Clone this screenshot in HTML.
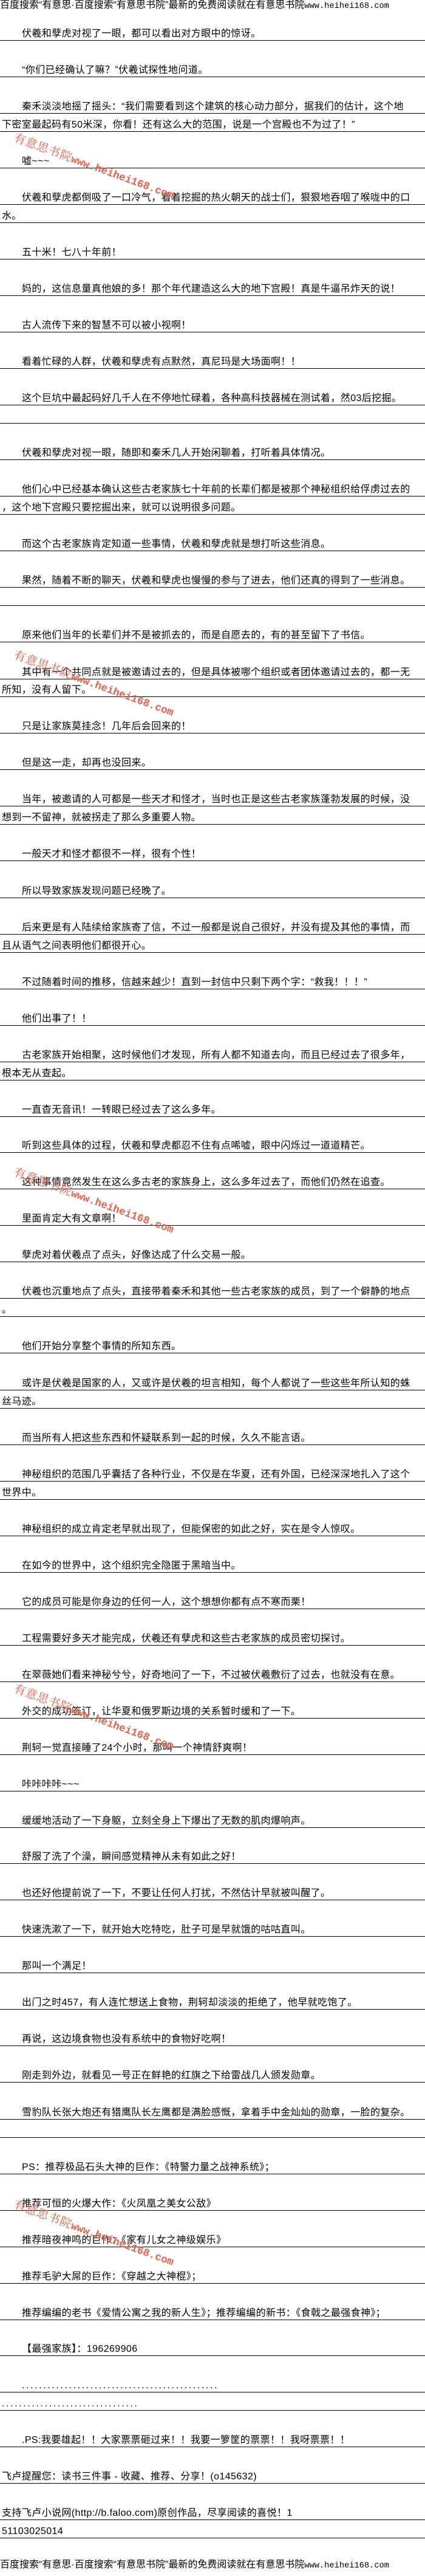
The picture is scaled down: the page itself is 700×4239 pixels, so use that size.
<!DOCTYPE html>
<html><head><meta charset="utf-8">
<style>
html,body{margin:0;padding:0;background:#fff;}
body{width:700px;height:4239px;position:relative;overflow:hidden;font-family:"Liberation Sans","Noto Sans CJK SC","WenQuanYi Zen Hei",sans-serif;color:#000;}
.t{position:absolute;left:0;width:700px;height:20px;line-height:20px;border-bottom:1px solid #000;font-size:16px;letter-spacing:0.4px;white-space:nowrap;padding-left:3px;box-sizing:content-box;}
.i{padding-left:36px;width:667px;}
.n{width:697px;}
.hd{position:absolute;left:0;font-size:16px;white-space:nowrap;line-height:18px;}
.hd span{font-family:"Liberation Mono",monospace;font-size:13.7px;}
.wm{position:absolute;left:29px;transform:rotate(20deg);transform-origin:0 0;white-space:nowrap;color:#d4533f;opacity:0.85;text-shadow:0 0 2px #f3c0b8;}
.wm b{font-weight:normal;font-family:"Liberation Serif","Noto Serif CJK SC",serif;font-size:19px;letter-spacing:1px;}
.wm span{font-family:"Liberation Mono",monospace;font-size:17.5px;font-weight:bold;}
</style></head><body>
<div class="hd" style="top:0">百度搜索“有意思·百度搜索“有意思书院”最新的免费阅读就在有意思书院<span>www.heihei168.com</span></div>

<div class="t i" style="top:46px">伏羲和孽虎对视了一眼，都可以看出对方眼中的惊讶。</div>
<div class="t i" style="top:106px">“你们已经确认了嘛？”伏羲试探性地问道。</div>
<div class="t i" style="top:166px">秦禾淡淡地摇了摇头：“我们需要看到这个建筑的核心动力部分，据我们的估计，这个地</div>
<div class="t n" style="top:196px">下密室最起码有50米深，你看！还有这么大的范围，说是一个宫殿也不为过了！”</div>
<div class="t i" style="top:256px">嘘~~~</div>
<div class="t i" style="top:316px">伏羲和孽虎都倒吸了一口冷气，看着挖掘的热火朝天的战士们，狠狠地吞咽了喉咙中的口</div>
<div class="t n" style="top:346px">水。</div>
<div class="t i" style="top:406px">五十米！七八十年前！</div>
<div class="t i" style="top:466px">妈的，这信息量真他娘的多！那个年代建造这么大的地下宫殿！真是牛逼吊炸天的说！</div>
<div class="t i" style="top:526px">古人流传下来的智慧不可以被小视啊！</div>
<div class="t i" style="top:586px">看着忙碌的人群，伏羲和孽虎有点默然，真尼玛是大场面啊！！</div>
<div class="t i" style="top:646px">这个巨坑中最起码好几千人在不停地忙碌着，各种高科技器械在测试着，然03后挖掘。</div>
<div class="t n" style="top:676px"></div>
<div class="t i" style="top:736px">伏羲和孽虎对视一眼，随即和秦禾几人开始闲聊着，打听着具体情况。</div>
<div class="t i" style="top:796px">他们心中已经基本确认这些古老家族七十年前的长辈们都是被那个神秘组织给俘虏过去的</div>
<div class="t n" style="top:826px">，这个地下宫殿只要挖掘出来，就可以说明很多问题。</div>
<div class="t i" style="top:886px">而这个古老家族肯定知道一些事情，伏羲和孽虎就是想打听这些消息。</div>
<div class="t i" style="top:946px">果然，随着不断的聊天，伏羲和孽虎也慢慢的参与了进去，他们还真的得到了一些消息。</div>
<div class="t n" style="top:976px"></div>
<div class="t i" style="top:1036px">原来他们当年的长辈们并不是被抓去的，而是自愿去的，有的甚至留下了书信。</div>
<div class="t i" style="top:1097px">其中有一个共同点就是被邀请过去的，但是具体被哪个组织或者团体邀请过去的，都一无</div>
<div class="t n" style="top:1126px">所知，没有人留下。</div>
<div class="t i" style="top:1186px">只是让家族莫挂念！几年后会回来的！</div>
<div class="t i" style="top:1246px">但是这一走，却再也没回来。</div>
<div class="t i" style="top:1306px">当年，被邀请的人可都是一些天才和怪才，当时也正是这些古老家族蓬勃发展的时候，没</div>
<div class="t n" style="top:1336px">想到一不留神，就被拐走了那么多重要人物。</div>
<div class="t i" style="top:1396px">一般天才和怪才都很不一样，很有个性！</div>
<div class="t i" style="top:1457px">所以导致家族发现问题已经晚了。</div>
<div class="t i" style="top:1517px">后来更是有人陆续给家族寄了信，不过一般都是说自己很好，并没有提及其他的事情，而</div>
<div class="t n" style="top:1547px">且从语气之间表明他们都很开心。</div>
<div class="t i" style="top:1607px">不过随着时间的推移，信越来越少！直到一封信中只剩下两个字：“救我！！！”</div>
<div class="t i" style="top:1667px">他们出事了！！</div>
<div class="t i" style="top:1727px">古老家族开始相聚，这时候他们才发现，所有人都不知道去向，而且已经过去了很多年，</div>
<div class="t n" style="top:1757px">根本无从查起。</div>
<div class="t i" style="top:1817px">一直杳无音讯！一转眼已经过去了这么多年。</div>
<div class="t i" style="top:1876px">听到这些具体的过程，伏羲和孽虎都忍不住有点唏嘘，眼中闪烁过一道道精芒。</div>
<div class="t i" style="top:1936px">这种事情竟然发生在这么多古老的家族身上，这么多年过去了，而他们仍然在追查。</div>
<div class="t i" style="top:1996px">里面肯定大有文章啊！</div>
<div class="t i" style="top:2056px">孽虎对着伏羲点了点头，好像达成了什么交易一般。</div>
<div class="t i" style="top:2116px">伏羲也沉重地点了点头，直接带着秦禾和其他一些古老家族的成员，到了一个僻静的地点</div>
<div class="t n" style="top:2146px">。</div>
<div class="t i" style="top:2206px">他们开始分享整个事情的所知东西。</div>
<div class="t i" style="top:2267px">或许是伏羲是国家的人，又或许是伏羲的坦言相知，每个人都说了一些这些年所认知的蛛</div>
<div class="t n" style="top:2297px">丝马迹。</div>
<div class="t i" style="top:2357px">而当所有人把这些东西和怀疑联系到一起的时候，久久不能言语。</div>
<div class="t i" style="top:2417px">神秘组织的范围几乎囊括了各种行业，不仅是在华夏，还有外国，已经深深地扎入了这个</div>
<div class="t n" style="top:2447px">世界中。</div>
<div class="t i" style="top:2507px">神秘组织的成立肯定老早就出现了，但能保密的如此之好，实在是令人惊叹。</div>
<div class="t i" style="top:2567px">在如今的世界中，这个组织完全隐匿于黑暗当中。</div>
<div class="t i" style="top:2627px">它的成员可能是你身边的任何一人，这个想想你都有点不寒而栗！</div>
<div class="t i" style="top:2687px">工程需要好多天才能完成，伏羲还有孽虎和这些古老家族的成员密切探讨。</div>
<div class="t i" style="top:2747px">在翠薇她们看来神秘兮兮，好奇地问了一下，不过被伏羲敷衍了过去，也就没有在意。</div>
<div class="t i" style="top:2807px">外交的成功签订，让华夏和俄罗斯边境的关系暂时缓和了一下。</div>
<div class="t i" style="top:2867px">荆轲一觉直接睡了24个小时，那叫一个神情舒爽啊！</div>
<div class="t i" style="top:2927px">咔咔咔咔~~~</div>
<div class="t i" style="top:2987px">缓缓地活动了一下身躯，立刻全身上下爆出了无数的肌肉爆响声。</div>
<div class="t i" style="top:3046px">舒服了洗了个澡，瞬间感觉精神从未有如此之好！</div>
<div class="t i" style="top:3106px">也还好他提前说了一下，不要让任何人打扰，不然估计早就被叫醒了。</div>
<div class="t i" style="top:3166px">快速洗漱了一下，就开始大吃特吃，肚子可是早就饿的咕咕直叫。</div>
<div class="t i" style="top:3226px">那叫一个满足！</div>
<div class="t i" style="top:3286px">出门之时457，有人连忙想送上食物，荆轲却淡淡的拒绝了，他早就吃饱了。</div>
<div class="t i" style="top:3346px">再说，这边境食物也没有系统中的食物好吃啊！</div>
<div class="t i" style="top:3406px">刚走到外边，就看见一号正在鲜艳的红旗之下给雷战几人颁发勋章。</div>
<div class="t i" style="top:3467px">雪豹队长张大炮还有猎鹰队长左鹰都是满脸感慨，拿着手中金灿灿的勋章，一脸的复杂。</div>
<div class="t n" style="top:3497px"></div>
<div class="t i" style="top:3557px">PS：推荐极品石头大神的巨作：《特警力量之战神系统》；</div>
<div class="t i" style="top:3617px">推荐可恒的火爆大作：《火凤凰之美女公敌》</div>
<div class="t i" style="top:3677px">推荐暗夜神鸣的巨作：《家有儿女之神级娱乐》</div>
<div class="t i" style="top:3737px">推荐毛驴大屌的巨作：《穿越之大神棍》；</div>
<div class="t i" style="top:3797px">推荐编编的老书《爱情公寓之我的新人生》；推荐编编的新书：《食戟之最强食神》；</div>
<div class="t i" style="top:3856px">【最强家族】：196269906</div>
<div class="t i" style="top:3916px;letter-spacing:2.6px">..............................................</div>
<div class="t n" style="top:3946px;letter-spacing:2.6px">................................</div>
<div class="t i" style="top:4006px">.PS:我要雄起！！大家票票砸过来！！我要一箩筐的票票！！我呀票票！！</div>
<div class="t n" style="top:4066px">飞卢提醒您：读书三件事 - 收藏、推荐、分享！(o145632)</div>
<div class="t n" style="top:4126px">支持飞卢小说网(http://b.faloo.com)原创作品，尽享阅读的喜悦！1</div>
<div class="t n" style="top:4156px">51103025014</div>

<div class="hd" style="top:4212px">百度搜索“有意思·百度搜索“有意思书院”最新的免费阅读就在有意思书院<span>www.heihei168.com</span></div>

<div class="wm" style="top:212px"><b>有意思书院</b><span>www.heihei168.com</span></div>
<div class="wm" style="top:1063px"><b>有意思书院</b><span>www.heihei168.com</span></div>
<div class="wm" style="top:1914px"><b>有意思书院</b><span>www.heihei168.com</span></div>
<div class="wm" style="top:2764px"><b>有意思书院</b><span>www.heihei168.com</span></div>
<div class="wm" style="top:3613px"><b>有意思书院</b><span>www.heihei168.com</span></div>
</body></html>
